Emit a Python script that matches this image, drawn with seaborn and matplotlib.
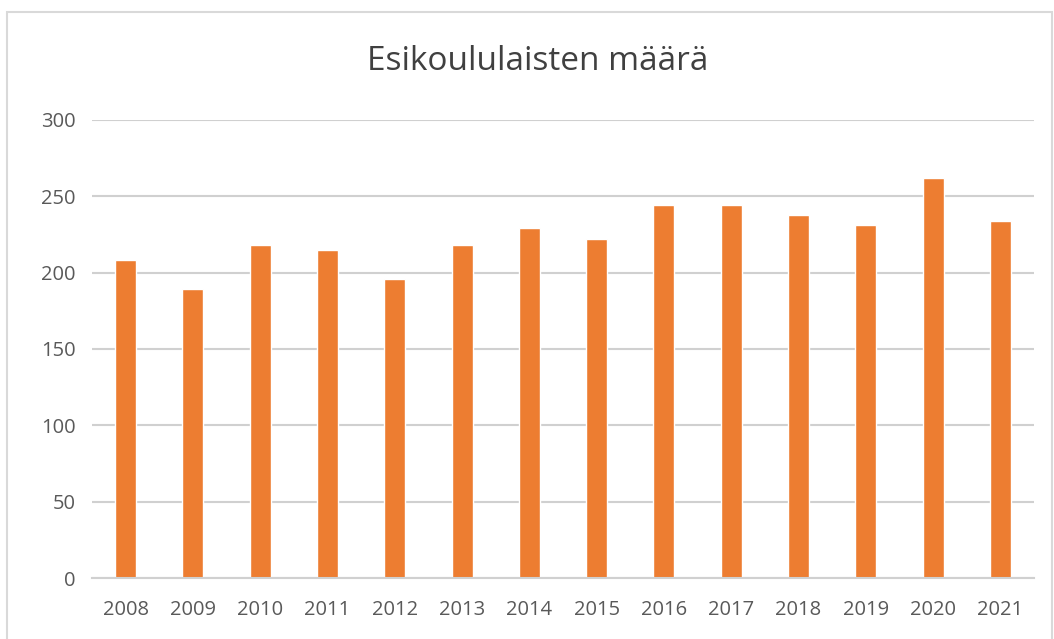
import matplotlib
matplotlib.use('Agg')
import matplotlib.pyplot as plt
import seaborn as sns
from matplotlib.patches import Rectangle

# Data
years = ['2008', '2009', '2010', '2011', '2012', '2013', '2014',
         '2015', '2016', '2017', '2018', '2019', '2020', '2021']
counts = [208, 189, 218, 215, 196, 218, 229, 222, 244, 244, 238, 231, 262, 234]
y_ticks = [0, 50, 100, 150, 200, 250, 300]

sns.set_style('white')
plt.rcParams['font.family'] = ['Open Sans', 'DejaVu Sans']

fig = plt.figure(figsize=(10.54, 6.39), dpi=100)
ax = fig.add_axes([92 / 1054, 1 - 578 / 639, (1034 - 92) / 1054, (578 - 120) / 639])

sns.barplot(x=years, y=counts, color='#ED7D31', saturation=1, width=0.31, ax=ax)

ax.set_ylim(0, 300)
ax.set_yticks(y_ticks)
ax.yaxis.grid(True, color='#D0D0D0', linewidth=1.5)
ax.set_axisbelow(True)
for side in ['top', 'right', 'left']:
    ax.spines[side].set_visible(False)
ax.spines['bottom'].set_color('#D0D0D0')
ax.spines['bottom'].set_linewidth(1.5)
ax.tick_params(axis='both', length=0, labelsize=14.5, labelcolor='#595959')
ax.tick_params(axis='y', pad=12)
ax.tick_params(axis='x', pad=16)
ax.set_xlabel('')
ax.set_ylabel('')

# chart frame
fig.patches.append(Rectangle((7 / 1054, -0.05), 1045 / 1054, 1.05 - 12 / 639,
                             transform=fig.transFigure, fill=False,
                             edgecolor='#D9D9D9', linewidth=1.5))

fig.text(0.51, 1 - 62 / 639, 'Esikoululaisten määrä', ha='center', va='center',
         fontsize=24, color='#404040')

fig.savefig('out.png', dpi=100, facecolor='white')
